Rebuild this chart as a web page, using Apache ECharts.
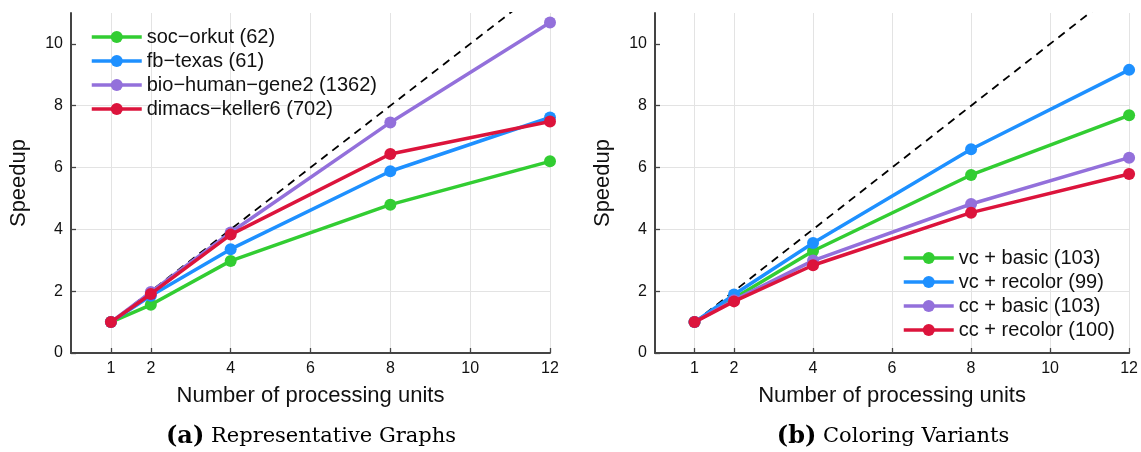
<!DOCTYPE html>
<html>
<head>
<meta charset="utf-8">
<script src="https://cdn.jsdelivr.net/npm/echarts@6/dist/echarts.min.js"></script>
<style>
html, body { margin: 0; padding: 0; background: #fff; }
#chart { width: 1141px; height: 452px; }
</style>
</head>
<body>
<div id="chart"></div>
<script>
// processing units on the x axis
const units = [1, 2, 4, 8, 12];
const xTicks = [1, 2, 4, 6, 8, 10, 12];
const yTicks = [0, 2, 4, 6, 8, 10];
const idealUnits = [1, 12];

// (a) representative graphs
const graphNames = ['soc−orkut (62)', 'fb−texas (61)', 'bio−human−gene2 (1362)', 'dimacs−keller6 (702)'];
const socOrkut = [1, 1.56, 2.98, 4.8, 6.2];
const fbTexas = [1, 1.85, 3.36, 5.88, 7.62];
const bioHuman = [1, 1.97, 3.9, 7.46, 10.69];
const dimacsKeller = [1, 1.91, 3.83, 6.44, 7.49];

// (b) coloring variants
const variantNames = ['vc + basic (103)', 'vc + recolor (99)', 'cc + basic (103)', 'cc + recolor (100)'];
const vcBasic = [1, 1.77, 3.3, 5.76, 7.69];
const vcRecolor = [1, 1.89, 3.56, 6.59, 9.16];
const ccBasic = [1, 1.71, 2.99, 4.82, 6.32];
const ccRecolor = [1, 1.67, 2.84, 4.54, 5.79];

const colors = ['#32CD32', '#1E90FF', '#9370DB', '#DC143C'];
const font = '"Liberation Sans", Arial, Helvetica, sans-serif';
const serif = '"DejaVu Serif", "Liberation Serif", serif';

const chart = echarts.init(document.getElementById('chart'));

function xAxis(i) {
    return {
        type: 'value', gridIndex: i, min: 0, max: 12,
        name: 'Number of processing units', nameLocation: 'middle', nameGap: 32,
        nameTextStyle: { fontFamily: font, fontSize: 22, color: '#111' },
        axisLine: { lineStyle: { color: '#444', width: 2 } },
        axisTick: { inside: true, length: 5, customValues: xTicks, lineStyle: { color: '#444', width: 1.3 } },
        axisLabel: { customValues: xTicks, margin: 8, fontFamily: font, fontSize: 16, color: '#111' },
        splitLine: { show: true, lineStyle: { color: '#e3e3e3', width: 1 } }
    };
}
function yAxis(i) {
    return {
        type: 'value', gridIndex: i, min: 0, max: 11,
        name: 'Speedup', nameLocation: 'middle', nameGap: 41,
        nameTextStyle: { fontFamily: font, fontSize: 22, color: '#111' },
        axisLine: { show: true, lineStyle: { color: '#444', width: 2 } },
        axisTick: { show: true, inside: true, length: 5, customValues: yTicks, lineStyle: { color: '#444', width: 1.3 } },
        axisLabel: { customValues: yTicks, margin: 8, fontFamily: font, fontSize: 16, color: '#111' },
        splitLine: { show: true, showMaxLine: false, lineStyle: { color: '#e3e3e3', width: 1 } }
    };
}
function lines(i, names, sets) {
    const out = [{
        type: 'line', xAxisIndex: i, yAxisIndex: i, silent: true, z: 1,
        data: idealUnits.map(u => [u, u]),
        symbol: 'none', clip: true,
        lineStyle: { color: '#000', width: 1.8, type: [8, 6] }
    }];
    sets.forEach((vals, k) => {
        out.push({
            name: names[k], type: 'line', xAxisIndex: i, yAxisIndex: i, z: 2 + k,
            data: units.map((u, j) => [u, vals[j]]),
            symbol: 'circle', symbolSize: 12,
            itemStyle: { color: colors[k] },
            lineStyle: { color: colors[k], width: 3.5 }
        });
    });
    return out;
}

const legendBase = {
    orient: 'vertical', itemWidth: 50, itemHeight: 15, itemGap: 4, padding: 0,
    lineStyle: { width: 3.5 },
    textStyle: { fontFamily: font, fontSize: 20, color: '#111' }
};

chart.setOption({
    animation: false,
    grid: [
        { left: 71, right: 591, top: 13, bottom: 99 },
        { left: 655, right: 8, top: 13, bottom: 99 }
    ],
    xAxis: [xAxis(0), xAxis(1)],
    yAxis: [yAxis(0), yAxis(1)],
    legend: [
        Object.assign({ data: graphNames, left: 90, top: 27 }, legendBase),
        Object.assign({ data: variantNames, left: 902, top: 248 }, legendBase)
    ],
    series: lines(0, graphNames, [socOrkut, fbTexas, bioHuman, dimacsKeller])
        .concat(lines(1, variantNames, [vcBasic, vcRecolor, ccBasic, ccRecolor])),
    graphic: [
        { type: 'text', x: 311, y: 437, style: { text: '{b|(a)}  {n|Representative Graphs}', align: 'center', verticalAlign: 'middle',
            rich: { b: { fontFamily: serif, fontSize: 24, fontWeight: 'bold', fill: '#000' }, n: { fontFamily: serif, fontSize: 21, fill: '#000' } } } },
        { type: 'text', x: 893, y: 437, style: { text: '{b|(b)}  {n|Coloring Variants}', align: 'center', verticalAlign: 'middle',
            rich: { b: { fontFamily: serif, fontSize: 24, fontWeight: 'bold', fill: '#000' }, n: { fontFamily: serif, fontSize: 21, fill: '#000' } } } }
    ]
});
</script>
</body>
</html>
